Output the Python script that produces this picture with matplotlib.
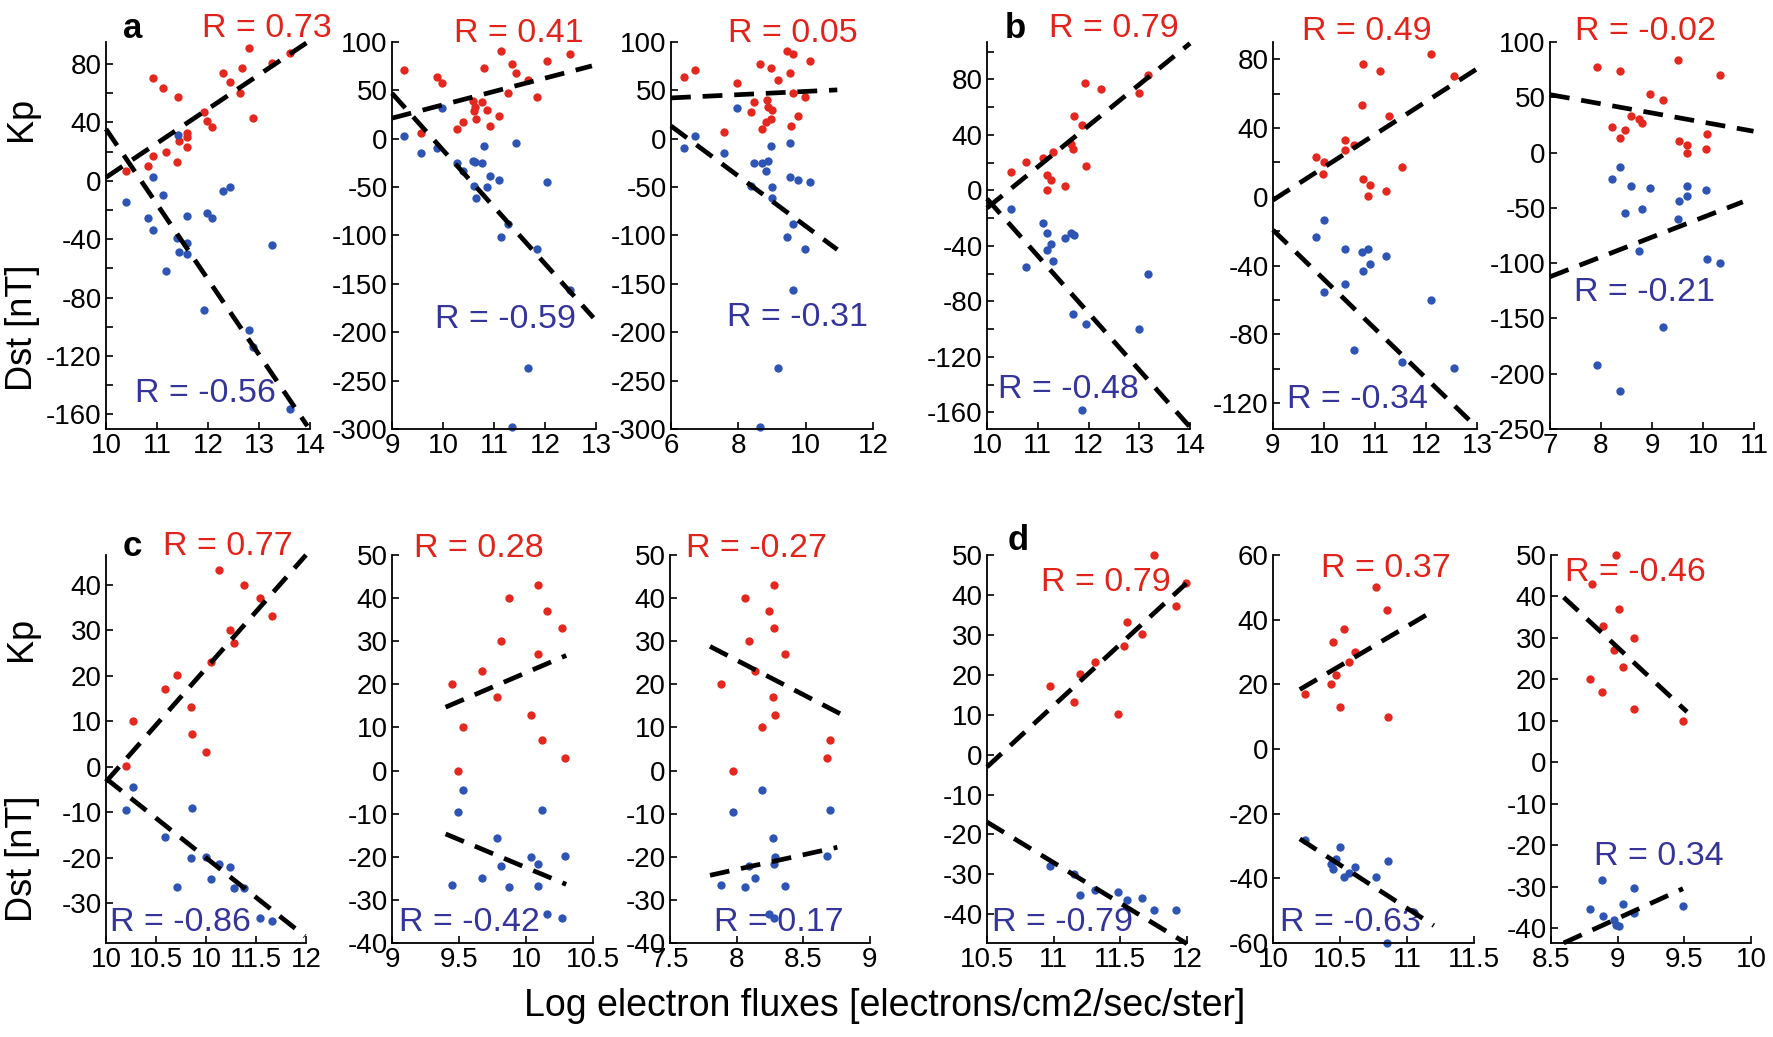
import numpy as np
import matplotlib.pyplot as plt

plt.rcParams['font.family'] = ['Liberation Sans', 'DejaVu Sans']

RED = '#e5281f'
BLUE = '#2f55b4'
RED_TXT = '#e2231a'
BLUE_TXT = '#34349b'

# ---------------- panel a ----------------
a1_kp_x = [10.39, 10.82, 10.93, 10.93, 11.12, 11.18, 11.39, 11.42, 11.44, 11.58, 11.58, 11.58,
           11.92, 11.99, 12.07, 12.29, 12.44, 12.62, 12.67, 12.80, 12.88, 13.25, 13.61]
a1_kp = [6.6, 9.8, 16.9, 70.6, 63.5, 19.9, 12.8, 57.4, 27.0, 32.7, 30.2, 22.9,
         46.9, 40.7, 37.0, 73.6, 67.4, 60.0, 77.5, 90.7, 43.2, 80.9, 87.5]
a1_dst_x = [10.39, 10.82, 10.93, 10.93, 11.12, 11.18, 11.39, 11.42, 11.44, 11.58, 11.58, 11.58,
            11.92, 11.99, 12.07, 12.29, 12.44, 12.80, 12.88, 13.25, 13.61]
a1_dst = [-14.4, -25.4, 2.3, -33.6, -10.0, -61.9, -39.5, 31.5, -48.5, -24.2, -42.3, -50.3,
          -88.2, -22.2, -25.4, -7.1, -4.3, -102, -114, -44.3, -156.6]
a1_fit_kp = ([10, 14], [2.3, 96])
a1_fit_dst = ([10, 13.95], [35.4, -168])

a2_kp_x = [9.24, 9.56, 9.88, 9.99, 10.28, 10.40, 10.59, 10.61, 10.64, 10.63, 10.76, 10.81,
           10.87, 10.92, 11.10, 11.14, 11.27, 11.35, 11.43, 11.67, 11.85, 12.03, 12.49]
a2_kp = [70.7, 6.3, 63.8, 57.5, 9.8, 17.4, 39.4, 28.9, 20.2, 32.4, 37.6, 73.5,
         30.0, 13.2, 23.0, 90.9, 47.4, 77.7, 67.9, 60.3, 43.2, 80.8, 87.8]
a2_dst_x = [9.24, 9.56, 9.88, 9.99, 10.28, 10.40, 10.58, 10.63, 10.76, 10.64, 10.61, 10.81,
            10.87, 10.92, 11.10, 11.14, 11.27, 11.35, 11.43, 11.67, 11.85, 12.03, 12.49]
a2_dst = [2.8, -14.6, -9.8, 31.7, -25.4, -33.4, -22.6, -24.4, -25.4, -61.7, -48.8, -7.0,
          -50.2, -39.0, -42.2, -102, -88.2, -297.6, -4.2, -237.3, -114.3, -44.3, -156.4]
a2_fit_kp = ([9, 12.92], [21.3, 75.3])
a2_fit_dst = ([9, 12.95], [47, -185])

a3_kp_x = [6.38, 6.72, 7.58, 7.95, 8.37, 8.47, 8.63, 8.71, 8.81, 8.86, 8.87, 8.98,
           8.97, 9.01, 9.19, 9.46, 9.53, 9.55, 9.63, 9.61, 9.77, 9.99, 10.12]
a3_kp = [63.4, 70.7, 6.6, 57.5, 27.2, 37.6, 77.7, 9.8, 17.4, 40.1, 33.1, 73.5,
         20.2, 30.0, 60.3, 90.9, 67.6, 13.2, 87.8, 47.0, 23.0, 43.2, 80.8]
a3_dst_x = [6.38, 6.72, 7.58, 7.95, 8.37, 8.47, 8.70, 8.81, 8.87, 8.98, 9.01, 8.99,
            9.19, 8.63, 9.46, 9.53, 9.53, 9.61, 9.63, 9.77, 9.99, 10.12]
a3_dst = [-9.8, 2.8, -14.6, 31.7, -48.4, -25.4, -25.4, -33.4, -23.0, -7.0, -50.2, -61.7,
          -237.3, -297.6, -102, -4.2, -39.7, -88.2, -156.4, -42.2, -114.3, -44.3]
a3_fit_kp = ([6, 10.94], [42.2, 50.5])
a3_fit_dst = ([6, 10.94], [13.2, -114.6])

# ---------------- panel b ----------------
b1_kp_x = [10.47, 10.76, 11.11, 11.19, 11.19, 11.26, 11.30, 11.54, 11.66, 11.69, 11.72, 11.87,
           11.93, 11.95, 12.24, 13.00, 13.17]
b1_kp = [13.2, 20.2, 23.5, 10.8, 0.0, 7.2, 27.6, 3.1, 33.2, 30.0, 53.3, 47.1,
         77.4, 17.3, 73.3, 70.4, 83.4]
b1_dst_x = [10.47, 10.76, 11.11, 11.19, 11.19, 11.26, 11.30, 11.54, 11.66, 11.72, 11.69, 11.87,
            11.95, 13.00, 13.17]
b1_dst = [-13.7, -55.5, -23.5, -30.8, -43.2, -38.9, -51.2, -34.6, -30.5, -32.2, -89.4, -158.6,
          -96.6, -99.9, -60.1]
b1_fit_kp = ([10, 14], [-12.7, 106])
b1_fit_dst = ([10, 14], [-6, -170.6])

b2_kp_x = [9.84, 10.0, 9.99, 10.41, 10.41, 10.59, 10.76, 10.75, 10.76, 10.90, 10.87, 11.09,
           11.27, 11.21, 11.53, 12.10, 12.54]
b2_kp = [23.2, 20.1, 13.1, 33.2, 27.4, 30.1, 77.1, 53.1, 10.2, 7.1, 0.2, 73.0,
         47.1, 3.3, 17.2, 83.1, 70.1]
b2_dst_x = [9.84, 10.0, 10.0, 10.41, 10.41, 10.59, 10.75, 10.76, 10.87, 10.90, 11.21, 11.53,
            12.10, 12.54]
b2_dst = [-23.4, -13.3, -55.3, -30.5, -50.8, -88.9, -32.1, -43.3, -30.3, -38.8, -34.4, -96.0,
          -59.9, -99.5]
b2_fit_kp = ([9, 13], [-1.9, 74.4])
b2_fit_dst = ([9, 12.97], [-19.3, -133.3])

b3_kp_x = [7.92, 8.22, 8.37, 8.37, 8.47, 8.58, 8.75, 8.81, 8.97, 9.22, 9.50, 9.52,
           9.68, 9.69, 10.06, 10.08, 10.33]
b3_kp = [77.4, 23.5, 73.5, 13.3, 20.5, 33.4, 30.4, 27.1, 53.3, 47.3, 83.4, 10.5,
         7.2, 0.0, 3.3, 17.2, 70.5]
b3_dst_x = [7.92, 8.22, 8.37, 8.37, 8.47, 8.58, 8.81, 8.75, 8.97, 9.22, 9.50, 9.52,
            9.68, 9.69, 10.06, 10.08, 10.33]
b3_dst = [-192.2, -23.5, -13.3, -215.7, -55.1, -30.4, -50.9, -89.2, -32.2, -158.1, -59.9, -43.4,
          -38.9, -30.4, -34.3, -96.1, -99.7]
b3_fit_kp = ([7, 10.99], [52.4, 19.3])
b3_fit_dst = ([7, 10.78], [-112.3, -44.6])

# ---------------- panel c ----------------
c1_x = [10.20, 10.27, 10.59, 10.71, 10.85, 10.86, 11.00, 11.05, 11.13, 11.24, 11.28, 11.38, 11.54, 11.66]
c1_kp = [0.1, 10.1, 17.1, 20.1, 13.1, 7.1, 3.2, 23.1, 43.2, 30.1, 27.2, 40.1, 37.2, 33.2]
c1_dst = [-9.5, -4.4, -15.5, -26.5, -20.0, -9.0, -19.8, -24.8, -21.5, -22.0, -26.8, -26.8, -33.2, -34.0]
c1_fit_kp = ([10, 12.0], [-3.3, 46.6])
c1_fit_dst = ([10, 11.99], [-2.6, -37.3])

c2_x = [9.45, 9.49, 9.53, 9.67, 9.78, 9.81, 9.87, 10.04, 10.09, 10.09, 10.12, 10.16, 10.27, 10.29]
c2_kp = [20, 0, 10, 23, 17, 30, 40, 13, 43, 27, 7, 37, 33, 3]
c2_dst = [-26.6, -9.6, -4.4, -25.0, -15.6, -22.1, -26.9, -20.1, -21.7, -26.8, -9.1, -33.3, -34.1, -19.8]
c2_fit_kp = ([9.40, 10.30], [14.7, 26.7])
c2_fit_dst = ([9.40, 10.30], [-14.7, -26.4])

c3_x = [7.88, 7.97, 8.06, 8.09, 8.14, 8.19, 8.24, 8.27, 8.28, 8.28, 8.29, 8.36, 8.68, 8.70]
c3_kp = [20, 0, 40, 30, 23, 10, 37, 17, 33, 43, 13, 27, 3, 7]
c3_dst = [-26.6, -9.6, -26.9, -22.1, -25.0, -4.4, -33.3, -15.6, -34.1, -21.7, -20.1, -26.8, -19.8, -9.1]
c3_fit_kp = ([7.8, 8.8], [28.8, 12.8])
c3_fit_dst = ([7.8, 8.755], [-24.3, -17.8])

# ---------------- panel d ----------------
d1_kp_x = [10.97, 11.15, 11.20, 11.31, 11.48, 11.53, 11.55, 11.66, 11.75, 11.92, 11.99]
d1_kp = [17.2, 13.2, 20.2, 23.2, 10.2, 27.2, 33.1, 30.1, 50.0, 37.1, 43.1]
d1_dst_x = [10.97, 11.15, 11.20, 11.31, 11.48, 11.55, 11.66, 11.75, 11.92]
d1_dst = [-28.0, -29.9, -35.2, -33.9, -34.3, -36.5, -36.0, -38.9, -39.0]
d1_fit_kp = ([10.5, 11.995], [-3.1, 42.9])
d1_fit_dst = ([10.5, 12.0], [-16.9, -47.4])

d2_x = [10.24, 10.43, 10.45, 10.47, 10.50, 10.53, 10.57, 10.61, 10.77, 10.85, 10.86]
d2_kp = [17, 20, 33, 23, 13, 37, 27, 30, 50, 43, 10]
d2_dst = [-28.1, -35.5, -37.1, -34.0, -30.4, -39.5, -38.4, -36.6, -39.5, -60.1, -34.7]
d2_fit_kp = ([10.2, 11.2], [18.4, 42.8])
d2_fit_dst = ([10.2, 11.2], [-27.8, -54.6])

d3_kp_x = [8.79, 8.81, 8.88, 8.89, 8.97, 8.99, 9.01, 9.04, 9.12, 9.12, 9.49]
d3_kp = [20.1, 43.1, 17.0, 33.0, 27.0, 50.0, 37.1, 23.1, 13.0, 30.1, 10.0]
d3_dst_x = [8.79, 8.88, 8.89, 8.97, 9.01, 8.99, 9.04, 9.12, 9.12, 9.49]
d3_dst = [-35.4, -28.2, -36.9, -38.0, -39.4, -39.1, -34.0, -30.2, -36.3, -34.6]
d3_fit_kp = ([8.595, 9.52], [39.8, 12.2])
d3_fit_dst = ([8.595, 9.49], [-43.5, -30.4])

# correlation coefficients shown on each subplot
r_kp = ['0.73', '0.41', '0.05', '0.79', '0.49', '-0.02',
        '0.77', '0.28', '-0.27', '0.79', '0.37', '-0.46']
r_dst = ['-0.56', '-0.59', '-0.31', '-0.48', '-0.34', '-0.21',
         '-0.86', '-0.42', '0.17', '-0.79', '-0.63', '0.34']

W, H = 1773, 1037
fig = plt.figure(figsize=(W / 100, H / 100), dpi=100)


def rect(left, top, right, bottom):
    return [left / W, 1 - bottom / H, (right - left) / W, (bottom - top) / H]


# (data, axes box in pixels, xlim, xticks, xticklabels, ylim, yticks, label step, R text positions)
panels = [
    (a1_kp_x, a1_kp, a1_dst_x, a1_dst, a1_fit_kp, a1_fit_dst, (106, 42, 310, 429),
     (10, 14), np.arange(10, 15, 1), None, (-170, 95), np.arange(-160, 81, 20), 40,
     (0.79, 1.036), (0.485, 0.093)),
    (a2_kp_x, a2_kp, a2_dst_x, a2_dst, a2_fit_kp, a2_fit_dst, (392, 42, 596, 429),
     (9, 13), np.arange(9, 14, 1), None, (-300, 100), np.arange(-300, 101, 50), 50,
     (0.623, 1.023), (0.554, 0.282)),
    (a3_kp_x, a3_kp, a3_dst_x, a3_dst, a3_fit_kp, a3_fit_dst, (671, 42, 873, 429),
     (6, 12), np.arange(6, 13, 2), None, (-300, 100), np.arange(-300, 101, 50), 50,
     (0.604, 1.023), (0.624, 0.287)),
    (b1_kp_x, b1_kp, b1_dst_x, b1_dst, b1_fit_kp, b1_fit_dst, (987, 42, 1190, 429),
     (10, 14), np.arange(10, 15, 1), None, (-172, 107), np.arange(-160, 101, 20), 40,
     (0.626, 1.034), (0.399, 0.101)),
    (b2_kp_x, b2_kp, b2_dst_x, b2_dst, b2_fit_kp, b2_fit_dst, (1273, 42, 1477, 429),
     (9, 13), np.arange(9, 14, 1), None, (-135, 90), np.arange(-120, 81, 20), 40,
     (0.461, 1.026), (0.412, 0.075)),
    (b3_kp_x, b3_kp, b3_dst_x, b3_dst, b3_fit_kp, b3_fit_dst, (1550, 42, 1754, 429),
     (7, 11), np.arange(7, 12, 1), None, (-250, 100), np.arange(-250, 101, 50), 50,
     (0.466, 1.026), (0.461, 0.354)),
    (c1_x, c1_kp, c1_x, c1_dst, c1_fit_kp, c1_fit_dst, (106, 555, 306, 943),
     (10, 12), np.arange(10, 12.01, 0.5), ['10', '10.5', '10', '11.5', '12'],
     (-38.8, 46.6), np.arange(-30, 41, 10), 10, (0.61, 1.023), (0.37, 0.052)),
    (c2_x, c2_kp, c2_x, c2_dst, c2_fit_kp, c2_fit_dst, (392, 555, 593, 943),
     (9, 10.5), np.arange(9, 10.51, 0.5), None, (-40, 50), np.arange(-40, 51, 10), 10,
     (0.433, 1.018), (0.383, 0.052)),
    (c3_x, c3_kp, c3_x, c3_dst, c3_fit_kp, c3_fit_dst, (670, 555, 870, 943),
     (7.5, 9), np.arange(7.5, 9.01, 0.5), None, (-40, 50), np.arange(-40, 51, 10), 10,
     (0.435, 1.018), (0.545, 0.054)),
    (d1_kp_x, d1_kp, d1_dst_x, d1_dst, d1_fit_kp, d1_fit_dst, (987, 555, 1187, 943),
     (10.5, 12), np.arange(10.5, 12.01, 0.5), None, (-47.2, 50), np.arange(-40, 51, 10), 10,
     (0.595, 0.928), (0.375, 0.054)),
    (d2_x, d2_kp, d2_x, d2_dst, d2_fit_kp, d2_fit_dst, (1273, 555, 1474, 943),
     (10, 11.5), np.arange(10, 11.51, 0.5), None, (-60, 60), np.arange(-60, 61, 20), 20,
     (0.562, 0.966), (0.383, 0.054)),
    (d3_kp_x, d3_kp, d3_dst_x, d3_dst, d3_fit_kp, d3_fit_dst, (1551, 555, 1751, 943),
     (8.5, 10), np.arange(8.5, 10.01, 0.5), None, (-43.5, 50), np.arange(-40, 51, 10), 10,
     (0.42, 0.956), (0.54, 0.222)),
]

dash = (0, (4.2, 2.5))
for i, p in enumerate(panels):
    (kx, ky, dx, dy, fk, fd, box, xlim, xt, xtl, ylim, yt, ystep, rk_pos, rd_pos) = p
    ax = fig.add_axes(rect(*box))
    ax.plot(kx, ky, 'o', color=RED, ms=6, mew=0, zorder=2, clip_on=False)
    ax.plot(dx, dy, 'o', color=BLUE, ms=6, mew=0, zorder=2, clip_on=False)
    ax.plot(fk[0], fk[1], color='black', lw=3.4, ls=dash, zorder=3, clip_on=False)
    ax.plot(fd[0], fd[1], color='black', lw=3.4, ls=dash, zorder=3, clip_on=False)

    ax.set_xlim(xlim)
    ax.set_ylim(ylim)
    ax.set_xticks(xt)
    ax.set_xticklabels(xtl if xtl else ['%g' % v for v in xt])
    ax.set_yticks(yt)
    ax.set_yticklabels(['%g' % v if abs(v) % ystep < 1e-9 else '' for v in yt])

    for s in ['top', 'right']:
        ax.spines[s].set_visible(False)
    for s in ['left', 'bottom']:
        ax.spines[s].set_linewidth(1.3)
    ax.tick_params(direction='in', length=5, width=1.2, labelsize=20, pad=3)
    ax.patch.set_alpha(0)

    ax.text(*rk_pos, 'R = ' + r_kp[i], color=RED_TXT, fontsize=24.5,
            ha='center', va='center', transform=ax.transAxes, zorder=1)
    ax.text(*rd_pos, 'R = ' + r_dst[i], color=BLUE_TXT, fontsize=24.5,
            ha='center', va='center', transform=ax.transAxes, zorder=1)

# panel letters
for lab, (px, py) in zip('abcd', [(133, 28), (1015, 28), (132, 546), (1018, 541)]):
    fig.text(px / W, 1 - py / H, lab, fontsize=25, fontweight='bold', ha='center', va='center')

# shared axis labels
for py in (119, 639):
    fig.text(22 / W, 1 - py / H, 'Kp', fontsize=26, rotation=90, ha='center', va='center')
for py in (328, 859):
    fig.text(22 / W, 1 - py / H, 'Dst [nT]', fontsize=26, rotation=90, ha='center', va='center')
fig.text(885 / W, 1 - 1006 / H, 'Log electron fluxes [electrons/cm2/sec/ster]',
         fontsize=27, ha='center', va='center')

fig.savefig('out.png', dpi=100)
